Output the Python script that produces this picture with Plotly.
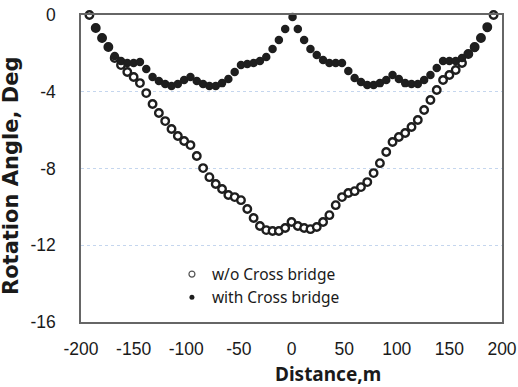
import plotly.graph_objects as go

# Distance (m) for the "w/o Cross bridge" series
x_wo = [-192, -186, -180, -174, -168, -162, -156, -150, -144, -138, -132, -126, -120,
        -114, -108, -102, -96, -90, -84, -78, -72, -66, -60, -54, -48, -42, -36, -30,
        -24, -18, -12, -6, 0, 6, 12, 18, 24, 30, 36, 42, 48, 54, 60, 66, 72, 78, 84,
        90, 96, 102, 108, 114, 120, 126, 132, 138, 144, 150, 156, 162, 168, 174, 180,
        186, 192]
y_wo = [0.0, -0.68, -1.2, -1.67, -2.24, -2.61, -2.97, -3.23, -3.55, -4.07, -4.64, -5.11,
        -5.53, -5.94, -6.31, -6.57, -6.78, -7.35, -7.98, -8.45, -8.81, -9.07, -9.38,
        -9.49, -9.65, -10.11, -10.58, -11.0, -11.21, -11.26, -11.26, -11.1, -10.79,
        -11.0, -11.1, -11.16, -11.05, -10.79, -10.43, -9.91, -9.49, -9.28, -9.18,
        -8.97, -8.71, -8.24, -7.72, -7.14, -6.62, -6.36, -6.15, -5.84, -5.47, -4.95,
        -4.43, -3.91, -3.39, -3.13, -2.87, -2.5, -2.03, -1.67, -1.2, -0.63, 0.0]

# Distance (m) for the "with Cross bridge" series
x_with = [-186, -180, -174, -168, -162, -156, -150, -144, -138, -132, -126, -120, -114,
          -108, -102, -96, -90, -84, -78, -72, -66, -60, -54, -48, -42, -36, -30, -24,
          -18, -12, -6, 1, 6, 12, 18, 24, 30, 36, 42, 48, 54, 60, 66, 72, 78, 84, 90,
          96, 102, 108, 114, 120, 126, 132, 138, 144, 150, 156, 162, 168, 174, 180, 186]
y_with = [-0.68, -1.2, -1.67, -2.14, -2.4, -2.5, -2.5, -2.45, -2.82, -3.23, -3.44, -3.6,
          -3.7, -3.6, -3.39, -3.23, -3.44, -3.6, -3.7, -3.7, -3.55, -3.34, -2.97, -2.61,
          -2.55, -2.5, -2.4, -2.19, -1.77, -1.3, -0.73, -0.1, -0.73, -1.3, -1.77, -2.09,
          -2.35, -2.5, -2.5, -2.5, -2.92, -3.28, -3.49, -3.65, -3.65, -3.55, -3.39,
          -3.13, -3.34, -3.55, -3.6, -3.6, -3.39, -3.13, -2.76, -2.4, -2.4, -2.4, -2.24,
          -2.03, -1.72, -1.2, -0.68]

x_ticks = [-200, -150, -100, -50, 0, 50, 100, 150, 200]
y_ticks = [0, -4, -8, -12, -16]
names = ["w/o Cross bridge", "with Cross bridge"]

DARK = "#1e1e1e"
fig = go.Figure()

fig.add_trace(go.Scatter(
    x=x_wo, y=y_wo, mode="markers", name=names[0], showlegend=False,
    marker=dict(symbol="circle", size=7.5, color="white",
                line=dict(color=DARK, width=2.4)),
    cliponaxis=False))
fig.add_trace(go.Scatter(
    x=x_with, y=y_with, mode="markers", name=names[1], showlegend=False,
    marker=dict(symbol="circle", size=8.5, color=DARK, line=dict(width=0)),
    cliponaxis=False))

# legend-only entries (smaller symbols as in the reference legend)
fig.add_trace(go.Scatter(
    x=[None], y=[None], mode="markers", name=names[0],
    marker=dict(symbol="circle", size=6, color="white",
                line=dict(color="#555555", width=1.2))))
fig.add_trace(go.Scatter(
    x=[None], y=[None], mode="markers", name=names[1],
    marker=dict(symbol="circle", size=5, color=DARK, line=dict(width=0))))

fig.update_layout(
    width=518, height=387,
    margin=dict(l=81, r=16, t=15, b=65, autoexpand=False),
    paper_bgcolor="white", plot_bgcolor="white",
    font=dict(family="Liberation Sans, Arial, sans-serif", size=16, color="#1a1a1a"),
    legend=dict(
        x=0.216, y=0.21, xanchor="left", yanchor="top",
        bgcolor="rgba(0,0,0,0)", borderwidth=0,
        font=dict(family="Noto Sans, sans-serif", size=15.5, color="#1a1a1a"),
        tracegroupgap=0, itemwidth=30,
    ),
    xaxis=dict(
        range=[-200, 200], tickvals=x_ticks, ticktext=[str(v) for v in x_ticks],
        showgrid=False, zeroline=False, showline=True, mirror=True, automargin=False,
        linecolor="#666666", linewidth=1.5, ticks="", ticklabelstandoff=10,
        tickfont=dict(size=17.5),
    ),
    yaxis=dict(
        range=[-16, 0], tickvals=y_ticks, ticktext=[str(v) for v in y_ticks],
        showgrid=True, gridcolor="#c5d6ee", griddash="dot", gridwidth=1,
        zeroline=False, showline=True, mirror=True, automargin=False,
        linecolor="#666666", linewidth=1.5, ticks="", ticklabelstandoff=20,
        tickfont=dict(size=17.5),
    ),
    annotations=[
        dict(text="<b>Rotation Angle, Deg</b>", xref="paper", yref="paper",
             x=-0.166, y=0.476, showarrow=False, textangle=-90,
             xanchor="center", yanchor="middle",
             font=dict(family="DejaVu Sans, sans-serif", size=21, color="#1a1a1a")),
        dict(text="<b>Distance,m</b>", xref="paper", yref="paper",
             x=0.587, y=-0.168, showarrow=False,
             xanchor="center", yanchor="middle",
             font=dict(family="Noto Sans, sans-serif", size=19, color="#1a1a1a")),
    ],
)

fig.write_html("out.html")
